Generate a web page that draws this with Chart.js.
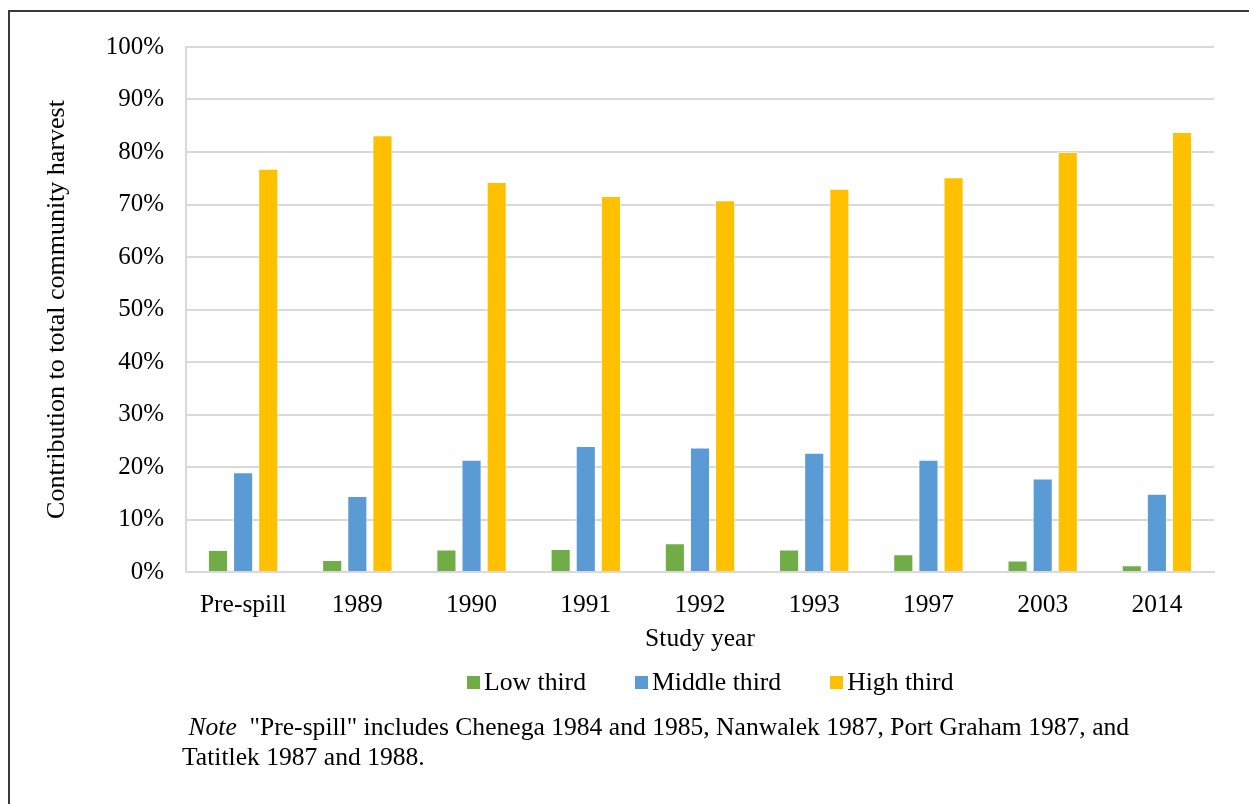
<!DOCTYPE html>
<html>
<head>
<meta charset="utf-8">
<title>Contribution to total community harvest</title>
<script src="https://cdn.jsdelivr.net/npm/chart.js@4.4.0/dist/chart.umd.min.js"></script>
<style>
  html, body { margin: 0; padding: 0; background: #fff; overflow: hidden; }
  #page { position: relative; width: 1249px; height: 804px; overflow: hidden; }
  #frame { position: absolute; left: 8px; top: 10px; width: 1400px; height: 1000px; border: 2px solid #3a3a3a; }
  #chart-box { position: absolute; left: 0; top: 0; width: 1249px; height: 804px; }
  #legend { position: absolute; left: 467px; top: 667px; display: flex; align-items: center;
    font-family: "Liberation Serif", "Times New Roman", serif; font-size: 25.7px; color: #000; line-height: 30px; }
  #legend .item { display: flex; align-items: center; margin-right: 49px; }
  #legend .box { width: 13px; height: 13px; margin-right: 4px; }
  #note { position: absolute; left: 182px; top: 712px; white-space: pre;
    font-family: "Liberation Serif", "Times New Roman", serif; font-size: 25.6px; line-height: 30px; color: #000; }
</style>
</head>
<body>
<div id="page">
  <div id="frame"></div>
  <div id="chart-box"><canvas id="harvest-chart"></canvas></div>
  <div id="legend"></div>
  <div id="note"> <i>Note</i>  "Pre-spill" includes Chenega 1984 and 1985, Nanwalek 1987, Port Graham 1987, and<br>Tatitlek 1987 and 1988.</div>
</div>
<script>
// Study years (x categories)
var categories = ['Pre-spill', '1989', '1990', '1991', '1992', '1993', '1997', '2003', '2014'];

// Share of total community harvest by household group (percent)
var lowThird = [4.2, 2.3, 4.3, 4.4, 5.5, 4.3, 3.4, 2.2, 1.3];
var middleThird = [19.0, 14.5, 21.4, 24.0, 23.7, 22.7, 21.4, 17.8, 14.9];
var highThird = [76.8, 83.2, 74.3, 71.6, 70.8, 73.0, 75.2, 80.0, 83.8];

var seriesNames = ['Low third', 'Middle third', 'High third'];
var seriesColors = ['#70ad47', '#5b9bd5', '#ffc000'];

var FONT = '"Liberation Serif", "Times New Roman", serif';

function makeDataset(i, values) {
  return {
    label: seriesNames[i],
    data: values,
    backgroundColor: seriesColors[i],
    borderColor: 'rgba(255, 255, 255, 0.5)',
    borderWidth: 1,
    barPercentage: 0.8,
    categoryPercentage: 0.66
  };
}

var ctx = document.getElementById('harvest-chart').getContext('2d');

var harvestChart = new Chart(ctx, {
  type: 'bar',
  data: {
    labels: categories,
    datasets: [
      makeDataset(0, lowThird),
      makeDataset(1, middleThird),
      makeDataset(2, highThird)
    ]
  },
  options: {
    responsive: true,
    maintainAspectRatio: false,
    animation: false,
    layout: {
      padding: { left: 0, right: 35, top: 47, bottom: 142 }
    },
    plugins: {
      legend: { display: false },
      tooltip: { enabled: false }
    },
    scales: {
      x: {
        grid: { display: false, drawTicks: false },
        border: { display: true, color: '#d9d9d9', width: 2 },
        ticks: {
          color: '#000',
          padding: 18,
          font: { family: FONT, size: 25.5 }
        },
        title: {
          display: true,
          text: 'Study year',
          color: '#000',
          padding: { top: 8, bottom: 7 },
          font: { family: FONT, size: 25.5 }
        },
        afterFit: function(scale) {
          scale.height = 90;
        }
      },
      y: {
        min: 0,
        max: 100,
        grid: { color: '#d9d9d9', lineWidth: 2, drawTicks: false },
        border: { display: true, color: '#d9d9d9', width: 2 },
        ticks: {
          stepSize: 10,
          color: '#000',
          padding: 22,
          font: { family: FONT, size: 25 },
          callback: function(value) {
            return value + '%';
          }
        },
        title: {
          display: true,
          text: 'Contribution to total community harvest',
          color: '#000',
          padding: { top: 42, bottom: 0 },
          font: { family: FONT, size: 26 }
        },
        afterFit: function(scale) {
          scale.width = 186;
        }
      }
    }
  }
});

// Legend built from the chart's own datasets
var legendEl = document.getElementById('legend');
harvestChart.data.datasets.forEach(function(ds) {
  var item = document.createElement('div');
  item.className = 'item';
  var box = document.createElement('span');
  box.className = 'box';
  box.style.background = ds.backgroundColor;
  var txt = document.createElement('span');
  txt.textContent = ds.label;
  item.appendChild(box);
  item.appendChild(txt);
  legendEl.appendChild(item);
});
</script>
</body>
</html>
